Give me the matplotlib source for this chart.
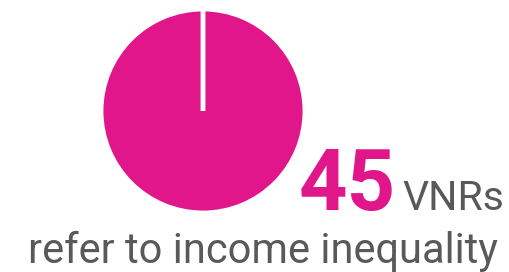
import matplotlib.pyplot as plt

values = [45, 0]
colors = ['#e0168a', '#e0168a']
big_number = '45'
unit = 'VNRs'
caption = 'refer to income inequality'

fig = plt.figure(figsize=(5.1, 2.72), dpi=100)
ax = fig.add_axes([101 / 510, 1 - 214 / 272, 204 / 510, 206 / 272])
ax.pie(values, colors=colors, startangle=90, counterclock=False,
       wedgeprops=dict(edgecolor='white', linewidth=3.5))
ax.set_xlim(-1, 1)
ax.set_ylim(-1, 1)
ax.set_aspect('equal')

fig.text(299 / 510, 1 - 210 / 272, big_number, color='#e0168a', fontsize=61,
         fontweight='bold', family='Roboto', ha='left', va='baseline')
fig.text(402 / 510, 1 - 210 / 272, unit, color='#595959', fontsize=29.5,
         family='Roboto', ha='left', va='baseline')
fig.text(263 / 510, 1 - 263 / 272, caption, color='#595959', fontsize=30,
         family='Roboto', ha='center', va='baseline')

fig.savefig('out.png', dpi=100)
